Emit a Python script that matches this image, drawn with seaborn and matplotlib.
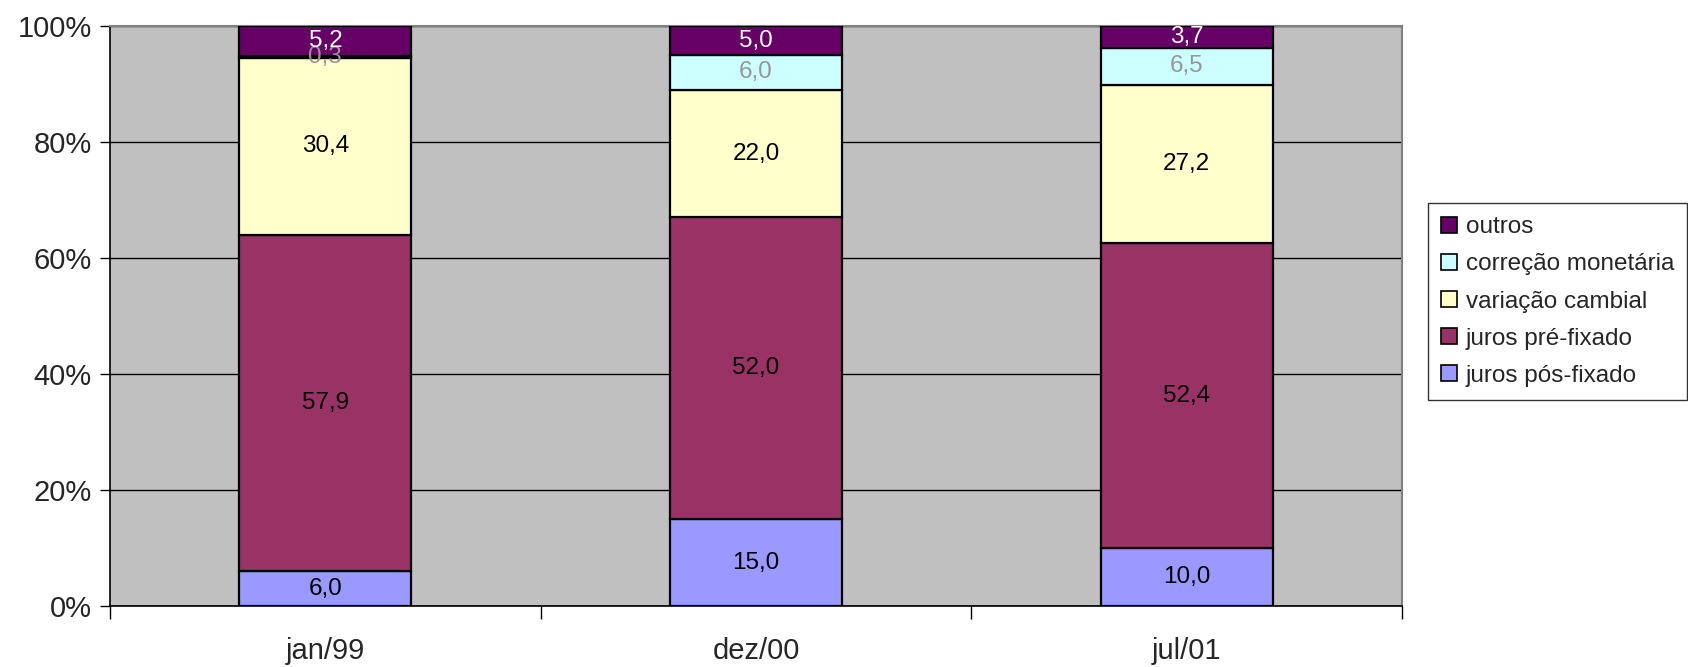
import matplotlib
matplotlib.use("Agg")
import matplotlib.pyplot as plt
import seaborn as sns
import numpy as np

# Composition of the debt by indexer (share of total, %)
periods = ["jan/99", "dez/00", "jul/01"]
juros_pos = [6.0, 15.0, 10.0]
juros_pre = [57.9, 52.0, 52.4]
variacao_cambial = [30.4, 22.0, 27.2]
correcao_monetaria = [0.3, 6.0, 6.5]
outros = [5.2, 5.0, 3.7]

series_names = ["juros pós-fixado", "juros pré-fixado", "variação cambial",
                "correção monetária", "outros"]
series_values = [juros_pos, juros_pre, variacao_cambial, correcao_monetaria, outros]
series_colors = ["#9999FF", "#993366", "#FFFFCC", "#CCFFFF", "#660066"]
label_colors = ["black", "black", "black", "#969696", "white"]
y_ticks = [0, 20, 40, 60, 80, 100]

sns.set_theme(style="white")
plt.rcParams["font.family"] = ["Liberation Sans", "DejaVu Sans"]

fig = plt.figure(figsize=(16.88, 6.67), dpi=100)
ax = fig.add_axes([110 / 1688, 1 - 606 / 667, (1402 - 110) / 1688, (606 - 26) / 667])
ax.set_facecolor("#C0C0C0")

# 100% stacked: each column is scaled to its own total
totals = np.sum(np.array(series_values), axis=0)
bottom = np.zeros(len(periods))
for name, vals, col, lcol in zip(series_names, series_values, series_colors, label_colors):
    shares = np.array(vals) / totals * 100
    sns.barplot(x=periods, y=shares, bottom=bottom, color=col, width=0.4,
                edgecolor="black", linewidth=1.6, label=name, ax=ax, zorder=3,
                saturation=1)
    cont = ax.containers[-1]
    ax.bar_label(cont, labels=[f"{v:.1f}".replace(".", ",") for v in vals],
                 label_type="center", color=lcol, fontsize=17.5, zorder=4)
    bottom = bottom + shares

ax.set_xlim(-0.5, 2.5)
ax.set_ylim(0, 100)
ax.set_yticks(y_ticks)
ax.set_yticklabels([f"{t}%" for t in y_ticks], fontsize=21)
ax.yaxis.grid(True, color="black", linewidth=1.0, zorder=1)
ax.set_axisbelow(True)

# category names centred, tick marks on the category boundaries
ax.set_xticks(range(len(periods)))
ax.set_xticklabels(periods, fontsize=21)
ax.tick_params(axis="x", which="major", length=0, pad=22)
ax.set_xticks([-0.5, 0.5, 1.5, 2.5], minor=True)
ax.tick_params(axis="x", which="minor", length=9, width=1, color="black", bottom=True)
ax.tick_params(axis="y", length=7, width=1, color="black", left=True, pad=6)
ax.set_xlabel("")
ax.set_ylabel("")

for side in ["top", "right", "left"]:
    ax.spines[side].set_visible(True)
    ax.spines[side].set_color("#808080")
    ax.spines[side].set_linewidth(1.5)
ax.spines["bottom"].set_color("black")
ax.spines["bottom"].set_linewidth(1.2)
ax.spines["left"].set_color("black")
ax.spines["left"].set_linewidth(1.2)

handles, labels = ax.get_legend_handles_labels()
leg = fig.legend(handles[::-1], labels[::-1], loc="upper left",
                 bbox_to_anchor=(1428 / 1688, 1 - 203 / 667),
                 fontsize=17.5, frameon=True, fancybox=False, edgecolor="black",
                 handlelength=0.65, handleheight=0.65, handletextpad=0.35,
                 labelspacing=0.62, borderpad=0.55, borderaxespad=0)
leg.get_frame().set_linewidth(1.0)
for h in leg.legend_handles:
    h.set_edgecolor("black")
    h.set_linewidth(1.2)
if ax.get_legend() is not None:
    ax.get_legend().remove()

fig.savefig("out.png", dpi=100, facecolor="white")
